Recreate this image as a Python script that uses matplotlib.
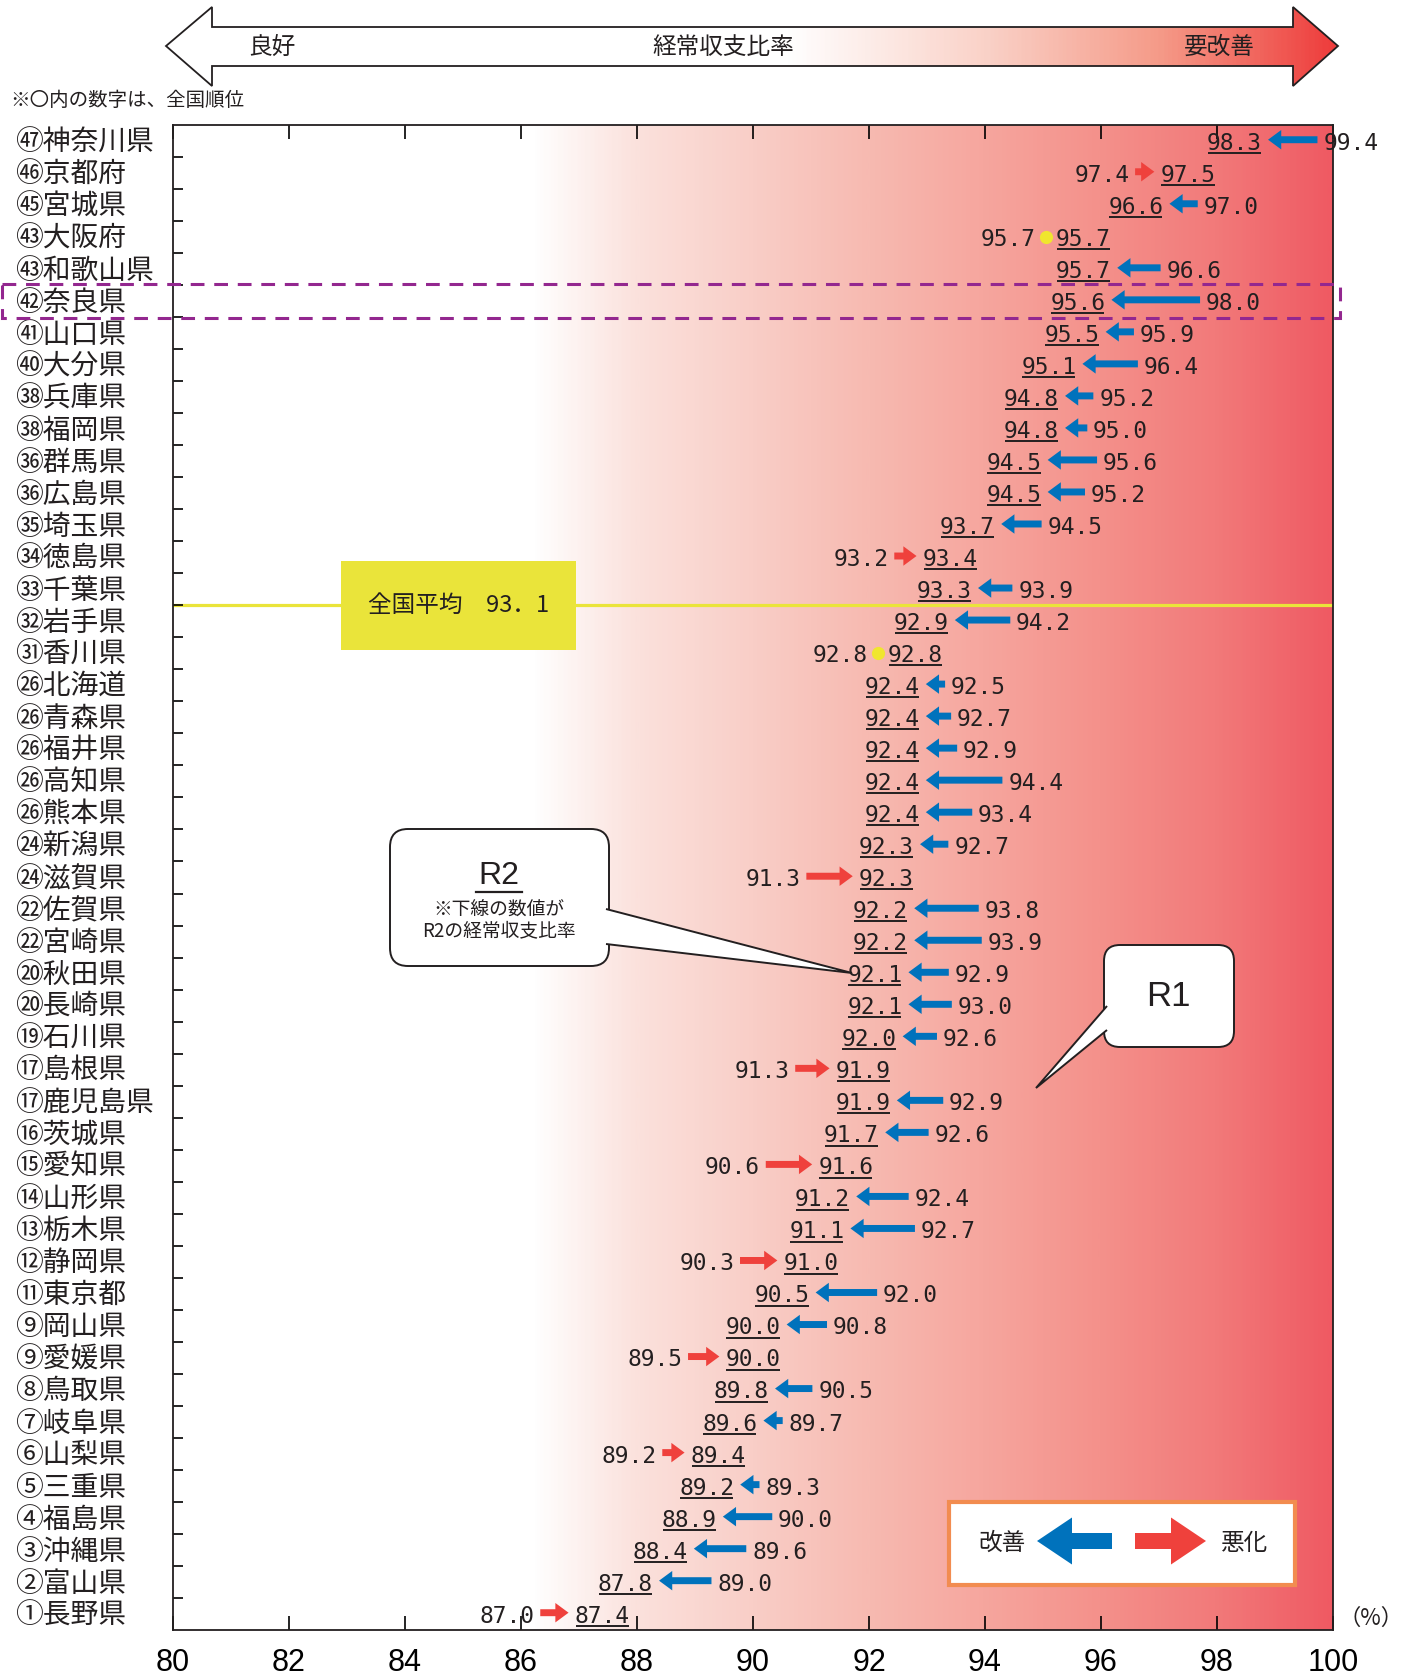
import numpy as np
import matplotlib
matplotlib.use("Agg")
import matplotlib.pyplot as plt
from matplotlib.colors import LinearSegmentedColormap
from matplotlib.patches import Polygon, FancyBboxPatch, Rectangle, FancyArrow
from matplotlib.transforms import blended_transform_factory

plt.rcParams["font.family"] = ["Noto Sans CJK JP", "DejaVu Sans"]

# data: prefectures in chart order (worst at top), rank, R2 (underlined) and R1 ratios
prefs = ["神奈川県", "京都府", "宮城県", "大阪府", "和歌山県", "奈良県", "山口県", "大分県",
         "兵庫県", "福岡県", "群馬県", "広島県", "埼玉県", "徳島県", "千葉県", "岩手県",
         "香川県", "北海道", "青森県", "福井県", "高知県", "熊本県", "新潟県", "滋賀県",
         "佐賀県", "宮崎県", "秋田県", "長崎県", "石川県", "島根県", "鹿児島県", "茨城県",
         "愛知県", "山形県", "栃木県", "静岡県", "東京都", "岡山県", "愛媛県", "鳥取県",
         "岐阜県", "山梨県", "三重県", "福島県", "沖縄県", "富山県", "長野県"]
ranks = [47, 46, 45, 43, 43, 42, 41, 40, 38, 38, 36, 36, 35, 34, 33, 32, 31, 26, 26, 26,
         26, 26, 24, 24, 22, 22, 20, 20, 19, 17, 17, 16, 15, 14, 13, 12, 11, 9, 9, 8,
         7, 6, 5, 4, 3, 2, 1]
r2 = [98.3, 97.5, 96.6, 95.7, 95.7, 95.6, 95.5, 95.1, 94.8, 94.8, 94.5, 94.5, 93.7, 93.4,
      93.3, 92.9, 92.8, 92.4, 92.4, 92.4, 92.4, 92.4, 92.3, 92.3, 92.2, 92.2, 92.1, 92.1,
      92.0, 91.9, 91.9, 91.7, 91.6, 91.2, 91.1, 91.0, 90.5, 90.0, 90.0, 89.8, 89.6, 89.4,
      89.2, 88.9, 88.4, 87.8, 87.4]
r1 = [99.4, 97.4, 97.0, 95.7, 96.6, 98.0, 95.9, 96.4, 95.2, 95.0, 95.6, 95.2, 94.5, 93.2,
      93.9, 94.2, 92.8, 92.5, 92.7, 92.9, 94.4, 93.4, 92.7, 91.3, 93.8, 93.9, 92.9, 93.0,
      92.6, 91.3, 92.9, 92.6, 90.6, 92.4, 92.7, 90.3, 92.0, 90.8, 89.5, 90.5, 89.7, 89.2,
      89.3, 90.0, 89.6, 89.0, 87.0]
national_avg = 93.1
highlight = "奈良県"
xticks = [80, 82, 84, 86, 88, 90, 92, 94, 96, 98, 100]

BLUE = "#0072BC"
RED = "#EF413C"
YELLOW = "#EAE43A"
PURPLE = "#93278F"
INK = "#231F20"
NUMFONT = "DejaVu Sans Mono"


def circled(n):
    if n <= 20:
        return chr(0x2460 + n - 1)
    if n <= 35:
        return chr(0x3251 + n - 21)
    return chr(0x32B1 + n - 36)


W, H = 1408, 1678
fig = plt.figure(figsize=(W / 100, H / 100), dpi=100)
ax = fig.add_axes([173 / W, 1 - 1630 / H, 1160 / W, 1505 / H])
n = len(prefs)

# background gradient
bg = LinearSegmentedColormap.from_list("bg", [
    (0.0, "#FFFFFF"), (0.31, "#FFFFFF"), (0.40, "#FBE1DC"), (0.50, "#F9CEC7"),
    (0.60, "#F7BAB1"), (0.70, "#F6A69E"), (0.80, "#F4918B"), (0.90, "#F27A7A"),
    (1.0, "#EF5A63")])
ax.imshow(np.linspace(0, 1, 600)[None, :], cmap=bg, aspect="auto",
          extent=(80, 100, n - 0.5, -0.5), zorder=0)
ax.set_xlim(80, 100)
ax.set_ylim(n - 0.5, -0.5)

ax.set_xticks(xticks)
ax.set_xticklabels([str(t) for t in xticks], fontsize=22,
                   family=["Liberation Sans", "DejaVu Sans"])
ax.tick_params(axis="x", direction="in", top=True, length=10, width=1.2, pad=13)
ax.set_yticks(np.arange(0.5, n - 1, 1))
ax.set_yticklabels([])
ax.tick_params(axis="y", direction="in", length=7, width=1.2)
for sp in ax.spines.values():
    sp.set_linewidth(1.3)
    sp.set_color(INK)

# overlay axes in pixel coordinates for decorations
ov = fig.add_axes([0, 0, 1, 1], zorder=5)
ov.set_xlim(0, W)
ov.set_ylim(H, 0)
ov.axis("off")
mix = blended_transform_factory(ov.transData, ax.transData)

# prefecture labels
for i, (p, r) in enumerate(zip(prefs, ranks)):
    ax.text(15, i + 0.05, circled(r) + p, transform=mix, ha="left", va="center",
            fontsize=20, color=INK, clip_on=False)

# national average line and box
avg_y = sum(v > national_avg for v in r2) - 0.5
ax.axhline(avg_y, color=YELLOW, lw=2.3, zorder=1)
ax.add_patch(Rectangle((82.9, avg_y - 1.38), 4.05, 2.76, fc=YELLOW, ec="none", zorder=2))
ax.text(84.92, avg_y, "全国平均　" + f"{national_avg:.1f}".replace(".", "．"),
        ha="center", va="center", fontsize=17, color=INK, zorder=3)

# values and arrows
hw = 0.46
arrow_style = "simple,head_length=0.95,head_width=1.4,tail_width=0.5"
for i, (a, b) in enumerate(zip(r1, r2)):
    ax.text(b, i + 0.27, f"{b:.1f}", ha="center", va="baseline", fontsize=16.5,
            family=NUMFONT, color=INK, zorder=4)
    ax.plot([b - hw, b + hw], [i + 0.37, i + 0.37], color=INK, lw=1.4,
            solid_capstyle="butt", zorder=4)
    if a > b:
        tip = b + hw + 0.12
        tail = tip + 0.28 + 0.52 * (a - b)
        ax.annotate("", xy=(tip, i - 0.04), xytext=(tail, i - 0.04), zorder=4,
                    arrowprops=dict(arrowstyle=arrow_style, mutation_scale=10,
                                    fc=BLUE, ec="none", shrinkA=0, shrinkB=0))
        ax.text(tail + 0.1, i + 0.27, f"{a:.1f}", ha="left", va="baseline",
                fontsize=16.5, family=NUMFONT, color=INK, zorder=4, clip_on=False)
    elif a < b:
        tip = b - hw - 0.12
        tail = tip - (0.28 + 0.52 * (b - a))
        ax.annotate("", xy=(tip, i - 0.04), xytext=(tail, i - 0.04), zorder=4,
                    arrowprops=dict(arrowstyle=arrow_style, mutation_scale=10,
                                    fc=RED, ec="none", shrinkA=0, shrinkB=0))
        ax.text(tail - 0.1, i + 0.27, f"{a:.1f}", ha="right", va="baseline",
                fontsize=16.5, family=NUMFONT, color=INK, zorder=4)
    else:
        dot = b - hw - 0.18
        ax.plot(dot, i, "o", ms=9.5, color="#F0E62E", mec="none", zorder=4)
        ax.text(dot - 0.18, i + 0.27, f"{a:.1f}", ha="right", va="baseline",
                fontsize=16.5, family=NUMFONT, color=INK, zorder=4)

# highlighted row
hi = prefs.index(highlight)
hl = Rectangle((2, hi - 0.52), 1338, 1.04, transform=mix, fill=False, ec=PURPLE,
               lw=2.2, ls=(0, (4.5, 3.2)), clip_on=False)
ov.add_patch(hl)

# top double arrow with gradient
pts = [(166, 46), (212, 7), (212, 27), (1293, 27), (1293, 7), (1338, 46),
       (1293, 86), (1293, 66), (212, 66), (212, 86)]
top_arrow = Polygon(pts, closed=True, fc="none", ec=INK, lw=1.3, zorder=3)
ov.add_patch(top_arrow)
arrow_cmap = LinearSegmentedColormap.from_list("ar", [
    (0.0, "#FFFFFF"), (0.53, "#FFFFFF"), (0.70, "#FAD2C8"), (0.85, "#F59A88"),
    (1.0, "#EE3C3C")])
img = ov.imshow(np.linspace(0, 1, 600)[None, :], cmap=arrow_cmap, aspect="auto",
                extent=(166, 1338, 87, 6), zorder=2)
img.set_clip_path(top_arrow)
ov.set_xlim(0, W)
ov.set_ylim(H, 0)
ov.text(272, 47, "良好", ha="center", va="center", fontsize=17, color=INK, zorder=4)
ov.text(723, 47, "経常収支比率", ha="center", va="center", fontsize=17, color=INK, zorder=4)
ov.text(1219, 47, "要改善", ha="center", va="center", fontsize=17, color=INK, zorder=4)
ov.text(10, 101, "※〇内の数字は、全国順位", ha="left", va="center", fontsize=14, color=INK)

# R2 callout
ov.add_patch(FancyBboxPatch((390, 829), 219, 137, boxstyle="round,pad=0,rounding_size=18",
                            fc="white", ec=INK, lw=1.4, zorder=3))
ov.add_patch(Polygon([(606, 909), (852, 973), (606, 944)], closed=False, fc="white",
                     ec=INK, lw=1.4, zorder=4))
ov.text(499, 876, "R2", ha="center", va="center", fontsize=23, color=INK, zorder=5,
        family=["Liberation Sans", "DejaVu Sans"])
ov.plot([476, 522], [892, 892], color=INK, lw=1.6, zorder=5)
ov.text(499, 910, "※下線の数値が", ha="center", va="center", fontsize=13.5, color=INK, zorder=5)
ov.text(499, 931, "R2の経常収支比率", ha="center", va="center", fontsize=13.5, color=INK, zorder=5)

# R1 callout
ov.add_patch(FancyBboxPatch((1104, 945), 130, 102, boxstyle="round,pad=0,rounding_size=16",
                            fc="white", ec=INK, lw=1.4, zorder=3))
ov.add_patch(Polygon([(1107, 1006), (1036, 1088), (1107, 1030)], closed=False,
                     fc="white", ec=INK, lw=1.4, zorder=4))
ov.text(1168, 996, "R1", ha="center", va="center", fontsize=25, color=INK, zorder=5,
        family=["Liberation Sans", "DejaVu Sans"])

# legend
ov.add_patch(Rectangle((949, 1502), 346, 83, fc="white", ec="#F28C50", lw=3, zorder=3))
ov.add_patch(FancyArrow(1112, 1541, -75, 0, width=16, head_width=47, head_length=35,
                        length_includes_head=True, fc=BLUE, ec="none", zorder=4))
ov.add_patch(FancyArrow(1135, 1541, 71, 0, width=16, head_width=47, head_length=35,
                        length_includes_head=True, fc=RED, ec="none", zorder=4))
ov.text(1002, 1543, "改善", ha="center", va="center", fontsize=17, color=INK, zorder=5)
ov.text(1245, 1543, "悪化", ha="center", va="center", fontsize=17, color=INK, zorder=5)
ov.text(1371, 1618, "（%）", ha="center", va="center", fontsize=16, color=INK)

fig.savefig("out.png", dpi=100)
